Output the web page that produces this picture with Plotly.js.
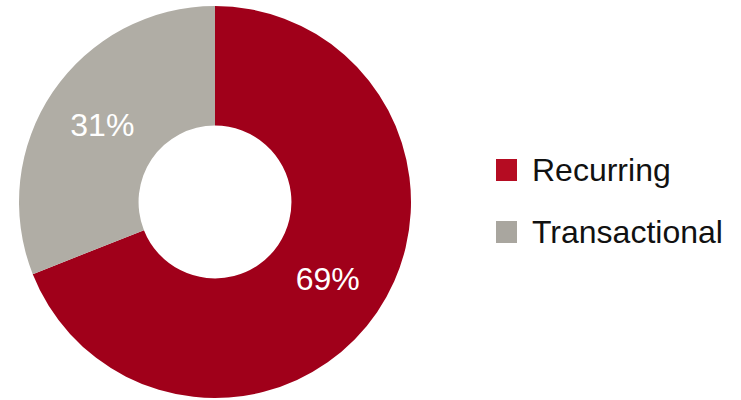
<!DOCTYPE html>
<html><head><meta charset="utf-8">
<script src="https://cdn.plot.ly/plotly-3.0.1.min.js"></script>
<style>html,body{margin:0;padding:0;background:#fff}#chart{width:741px;height:400px}</style>
</head><body><div id="chart"></div>
<script>
const categories = ["Recurring", "Transactional"];
const shares = [69, 31];
const sliceColors = ["#a0001a", "#b0ada5"];
const legendColors = ["#b50c22", "#a9a69f"];

const trace = {
  type: "pie",
  labels: categories,
  values: shares,
  hole: 0.39,
  sort: false,
  direction: "clockwise",
  rotation: 0,
  textinfo: "percent",
  textposition: "inside",
  insidetextorientation: "horizontal",
  insidetextfont: {family: "Liberation Sans, Arial, sans-serif", size: 32, color: "#ffffff"},
  marker: {colors: sliceColors, line: {width: 0}},
  domain: {x: [0.0256, 0.5547], y: [0.005, 0.985]},
  showlegend: false
};

// legend built from the category/colour arrays
const shapes = [];
const annotations = [];
const legendRowsPx = [170, 232];
categories.forEach((c, i) => {
  const yc = 1 - legendRowsPx[i] / 400;
  shapes.push({
    type: "rect", xref: "paper", yref: "paper",
    x0: 496 / 741, x1: 517 / 741,
    y0: yc - 11 / 400, y1: yc + 11 / 400,
    fillcolor: legendColors[i], line: {width: 0}
  });
  annotations.push({
    xref: "paper", yref: "paper", x: 530 / 741, y: yc,
    xanchor: "left", yanchor: "middle", showarrow: false,
    text: c,
    font: {family: "Liberation Sans, Arial, sans-serif", size: 32, color: "#111111"}
  });
});

const layout = {
  width: 741, height: 400,
  margin: {l: 0, r: 0, t: 0, b: 0},
  paper_bgcolor: "#ffffff",
  showlegend: false,
  shapes: shapes,
  annotations: annotations
};

Plotly.newPlot("chart", [trace], layout, {displayModeBar: false});
</script></body></html>
